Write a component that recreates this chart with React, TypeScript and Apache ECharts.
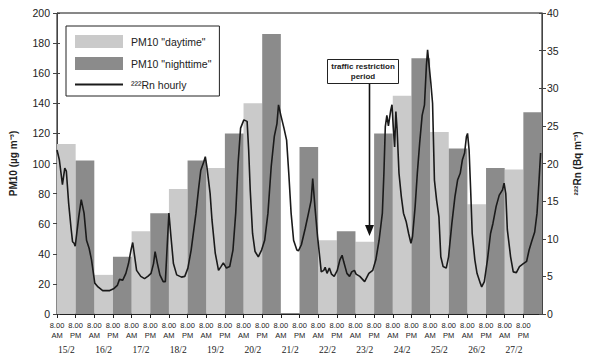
import React, { useEffect, useRef } from "react";
import * as echarts from "echarts";

const dates = ["15/2", "16/2", "17/2", "18/2", "19/2", "20/2", "21/2", "22/2", "23/2", "24/2", "25/2", "26/2", "27/2"];
const dayPM10 = [113, 26, 55, 83, 97, 140, null, 49, 48, 145, 121, 73, 96];
const nightPM10 = [102, 38, 67, 102, 120, 186, 111, 55, 120, 170, 110, 97, 134];
const slotLabels = ["8.00\nAM", "8.00\nPM"];

// hours since 15/2 8.00 AM
const rnHour = [
  0, 1.5, 3.5, 5, 6, 7.5, 9, 10, 11, 11.7, 12.7, 14, 15.6, 17.4, 19, 20.7, 22.2, 24.3, 26.4, 29.4,
  33.6, 36.7, 38.8, 40.2, 42.3, 44.3, 46, 47.6, 48.7, 51.2, 53.9, 56.3, 58.4, 60.5, 62.1, 63.1, 64.6, 66.2, 68.3, 69.7,
  71.2, 72.0, 73.3, 74.9, 77, 80.1, 82.2, 84.2, 86.3, 89.4, 91, 92.5, 94.4, 95.4, 96.4, 98.5, 99.7, 101.8, 103.9, 105.5,
  107, 109, 111.1, 113.2, 115, 116.5, 118.1, 120.2, 122.3, 123.3, 124.3, 125.8, 127.4, 129.5, 131.6, 133.6, 135.7, 137.8, 139.8, 141.5,
  142.5, 144, 146, 147.7, 149.1, 150.6, 152.2, 154.3, 155.3, 157.2, 159.7, 161.8, 163.5, 164.5, 165.9, 167.6, 169, 170, 171.6, 172.5,
  173.7, 175.2, 176.6, 178.3, 180.3, 182, 183.4, 184.5, 186.5, 188.2, 189.6, 191.3, 192.4, 194.8, 197.9, 200.6, 203.1, 205.1, 207.2, 209.3,
  210.3, 211.2, 212.2, 213.2, 214.7, 215.5, 216.3, 217.2, 218, 218.8, 220, 221.5, 222.9, 224.6, 226.2, 227.7, 228.7, 230.4, 231.8, 233.3,
  234.9, 236.4, 237.6, 238.4, 239, 240.5, 241.6, 242.8, 244.2, 245.7, 246.9, 248.4, 250.4, 251.9, 254, 256, 257.7, 259.4, 260.8, 262.2,
  263.4, 264.1, 265.1, 266.1, 267.1, 268.8, 270.2, 272.3, 273.2, 274.9, 276.9, 278.9, 280.4, 282.5, 284.5, 286.6, 287.6, 288.7, 289.7, 291.8,
  293.5, 295.5, 297.5, 300, 302.1, 303.7, 305.3, 307.3, 308.8, 310, 311.1,
];
const rnValue = [
  21.8, 20.5, 17.2, 19.4, 19.0, 14.7, 11.5, 9.6, 9.4, 9.0, 10.7, 12.9, 15.2, 13.4, 9.8, 8.7, 7.2, 4.1, 3.6, 3.1,
  3.1, 3.4, 3.8, 4.6, 4.5, 5.4, 6.7, 8.5, 9.5, 5.8, 5.0, 4.7, 5.0, 5.4, 6.7, 8.3, 6.7, 5.2, 4.3, 4.3,
  10.3, 13.4, 10.3, 6.7, 5.2, 4.9, 5.0, 6.1, 8.5, 13.4, 16.5, 19.1, 20.2, 20.9, 19.6, 16.0, 12.5, 8.1, 5.8, 6.3,
  6.8, 6.1, 6.3, 8.5, 13.5, 20.0, 24.7, 25.8, 25.6, 21.8, 16.5, 10.7, 8.3, 7.6, 8.5, 9.8, 13.4, 19.6, 23.6, 25.3,
  27.8, 26.4, 24.7, 23.1, 18.7, 13.4, 9.8, 8.5, 8.4, 9.2, 11.4, 13.4, 15.1, 18.0, 14.3, 10.3, 7.6, 5.6, 5.8, 6.2,
  5.4, 6.1, 5.3, 5.0, 5.8, 7.2, 7.8, 6.9, 5.4, 5.0, 5.6, 5.8, 5.3, 5.0, 4.3, 5.4, 5.8, 7.2, 9.8, 13.4,
  18.7, 24.9, 26.4, 25.0, 27.1, 27.8, 24.9, 22.2, 26.9, 24.5, 18.7, 15.6, 13.4, 12.3, 10.7, 9.4, 10.3, 14.3, 18.7, 22.7,
  26.4, 27.8, 32.9, 35.1, 33.8, 30.7, 28.0, 17.8, 15.1, 12.9, 7.6, 6.3, 6.1, 7.6, 12.0, 15.6, 17.8, 18.7, 20.5, 21.4,
  23.6, 24.0, 21.8, 16.5, 10.7, 7.2, 5.4, 4.1, 3.6, 4.3, 7.2, 10.7, 12.0, 14.3, 15.8, 16.5, 17.4, 16.0, 11.2, 7.6,
  5.6, 5.5, 6.3, 6.7, 7.0, 8.5, 9.6, 10.9, 13.4, 17.4, 21.4,
];

const DAY = 'PM10 "daytime"';
const NIGHT = 'PM10 "nighttime"';
const RN = "²²²Rn hourly";

export default function App() {
  const ref = useRef<HTMLDivElement>(null);
  useEffect(() => {
    if (!ref.current) return;
    const chart = echarts.init(ref.current, null, { renderer: "svg" });
    const slots: string[] = [];
    const dayData: (number | null)[] = [];
    const nightData: (number | null)[] = [];
    dates.forEach((d, i) => {
      slots.push(d + " day", d + " night");
      dayData.push(dayPM10[i], null);
      nightData.push(null, nightPM10[i]);
    });
    const totalHours = slots.length * 12;
    const font = "Liberation Sans, Arial, sans-serif";
    const innerTicks = (position: "left" | "right", max: number, interval: number) => ({
      type: "value",
      min: 0,
      max,
      interval,
      position,
      axisLine: { show: false },
      axisTick: { show: true, inside: true, length: 3, lineStyle: { color: "#444" } },
      axisLabel: { show: false },
      splitLine: { show: false },
    });
    chart.setOption({
      animation: false,
      backgroundColor: "#ffffff",
      textStyle: { fontFamily: font },
      grid: { left: 52, right: 35, top: 13, bottom: 43, show: true, borderColor: "#111", borderWidth: 1 },
      legend: {
        left: 66,
        top: 26,
        width: 124,
        orient: "vertical",
        padding: [9, 8, 6, 8],
        itemWidth: 48,
        itemHeight: 13,
        itemGap: 9,
        borderColor: "#222",
        borderWidth: 1,
        backgroundColor: "#fff",
        textStyle: { fontSize: 10.5, color: "#222", fontFamily: font, padding: [0, 0, 0, 3] },
        data: [
          { name: DAY, icon: "rect" },
          { name: NIGHT, icon: "rect" },
          { name: RN, itemStyle: { opacity: 0 }, lineStyle: { width: 2, color: "#1a1a1a" } },
        ],
      },
      xAxis: [
        {
          type: "category",
          data: slots,
          position: "bottom",
          boundaryGap: true,
          axisLine: { show: false },
          axisTick: { show: false },
          axisLabel: {
            interval: 0,
            margin: 31,
            fontFamily: "Liberation Serif, Times New Roman, serif",
            fontSize: 9.5,
            color: "#222",
            formatter: (_v: string, i: number) => (i % 2 === 0 ? dates[i / 2] : ""),
          },
        },
        {
          type: "value",
          position: "bottom",
          min: 0,
          max: totalHours,
          interval: 12,
          axisLine: { show: true, lineStyle: { color: "#222", width: 1 } },
          axisTick: { show: true, length: 4, lineStyle: { color: "#222" } },
          splitLine: { show: false },
          axisLabel: {
            margin: 6,
            fontSize: 7.5,
            lineHeight: 10,
            color: "#222",
            showMaxLabel: false,
            formatter: (v: number) => (v >= totalHours ? "" : slotLabels[Math.round(v / 12) % 2]),
          },
        },
      ],
      yAxis: [
        {
          type: "value",
          min: 0,
          max: 200,
          interval: 20,
          name: "PM10 (µg m⁻³)",
          nameLocation: "middle",
          nameGap: 39,
          nameRotate: 90,
          nameTextStyle: { fontSize: 10, fontWeight: "bold", color: "#222" },
          axisLine: { show: true, lineStyle: { color: "#444" } },
          axisTick: { show: true, length: 4, lineStyle: { color: "#444" } },
          splitLine: { show: false },
          axisLabel: { fontSize: 10.5, color: "#222", margin: 7 },
        },
        {
          type: "value",
          min: 0,
          max: 40,
          interval: 5,
          position: "right",
          name: "²²²Rn (Bq m⁻³)",
          nameLocation: "middle",
          nameGap: 30,
          nameRotate: 90,
          nameTextStyle: { fontSize: 10, fontWeight: "bold", color: "#222" },
          axisLine: { show: true, lineStyle: { color: "#444" } },
          axisTick: { show: true, length: 4, lineStyle: { color: "#444" } },
          splitLine: { show: false },
          axisLabel: { fontSize: 10.5, color: "#222", margin: 5 },
        },
        innerTicks("left", 200, 20),
        innerTicks("right", 40, 5),
      ],
      series: [
        {
          name: DAY,
          type: "bar",
          xAxisIndex: 0,
          yAxisIndex: 0,
          data: dayData,
          barWidth: "100%",
          barGap: "-100%",
          itemStyle: { color: "#cacaca" },
        },
        {
          name: NIGHT,
          type: "bar",
          xAxisIndex: 0,
          yAxisIndex: 0,
          data: nightData,
          barWidth: "100%",
          barGap: "-100%",
          itemStyle: { color: "#8b8b8b" },
        },
        {
          name: RN,
          type: "line",
          xAxisIndex: 1,
          yAxisIndex: 1,
          symbol: "none",
          data: rnHour.map((h, i) => [h, rnValue[i]]),
          lineStyle: { color: "#1a1a1a", width: 1.6 },
          itemStyle: { color: "#1a1a1a" },
        },
      ],
      graphic: [
        {
          type: "rect",
          shape: { x: 327.5, y: 59.5, width: 71, height: 24 },
          style: { fill: "#fff", stroke: "#222", lineWidth: 1 },
          z: 10,
        },
        {
          type: "text",
          x: 363,
          y: 71.5,
          style: {
            text: "traffic restriction\nperiod",
            fontSize: 8,
            fontWeight: "bold",
            fontFamily: font,
            lineHeight: 10,
            fill: "#222",
            align: "center",
            verticalAlign: "middle",
          },
          z: 11,
        },
        {
          type: "line",
          shape: { x1: 369.5, y1: 84, x2: 369.5, y2: 227 },
          style: { stroke: "#111", lineWidth: 1.6 },
          z: 10,
        },
        {
          type: "polygon",
          shape: { points: [[365, 225], [374, 225], [369.5, 236]] },
          style: { fill: "#111" },
          z: 10,
        },
      ],
    });
    return () => chart.dispose();
  }, []);
  return <div ref={ref} style={{ position: "fixed", left: 0, top: 0, width: 590, height: 357 }} />;
}
